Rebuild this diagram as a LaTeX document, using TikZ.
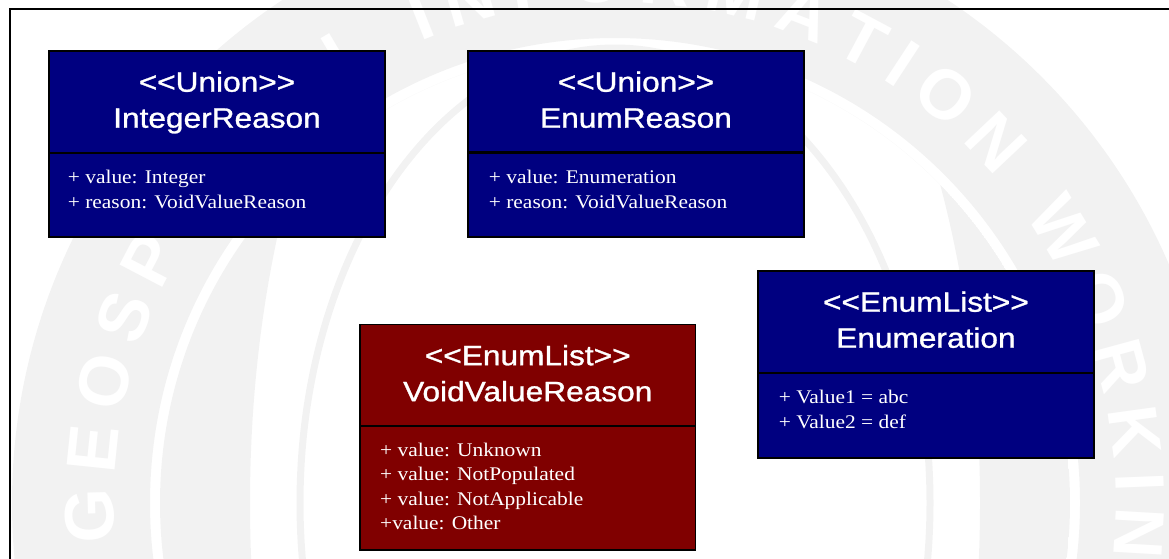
\documentclass[tikz,border=0pt]{standalone}
\usepackage{fontspec}
\setmainfont{Liberation Serif}
\setsansfont{Liberation Sans}
\newfontfamily\hdrfont{Liberation Sans}[FakeBold=1]
\usepackage{graphicx}
\definecolor{navy}{RGB}{0,0,128}
\definecolor{maroon}{RGB}{128,0,0}
\definecolor{wm}{RGB}{242,242,242}
\tikzset{
  umlbox/.style={draw=black, line width=1.8pt, inner sep=0pt, outer sep=0pt, minimum width=336pt, anchor=north west},
  hdr/.style={text=white, font=\hdrfont\fontsize{28}{34}\selectfont, anchor=base, inner sep=0pt},
  attr/.style={text=white, font=\rmfamily\fontsize{19.3}{24}\selectfont, anchor=base west, inner sep=0pt},
  divider/.style={draw=black, line width=2.2pt},
  frameline/.style={draw=black, line width=2.2pt},
  wmletter/.style={text=white, font=\sffamily\bfseries\fontsize{70}{70}\selectfont, inner sep=0pt, anchor=center},
}
\newcommand{\hs}[1]{\scalebox{1.13}[1]{#1}}
\newcommand{\as}[1]{\scalebox{1.11}[1]{#1}}
\begin{document}
\begin{tikzpicture}[x=1pt,y=-1pt]
\useasboundingbox (0,0) rectangle (1169,558);
\clip (0,0) rectangle (1169,558);
% watermark
\fill[wm, even odd rule] (615,503) circle[radius=603pt] (615,503) circle[radius=465pt];
\begin{scope}
  \clip (615,503) circle[radius=455pt];
  \fill[wm, even odd rule] (615,503) circle[radius=455pt] (615,503) ellipse[x radius=365pt, y radius=700pt];
\end{scope}
\draw[wm, line width=7pt] (615,503) ellipse[x radius=315pt, y radius=455pt];
\foreach \ch/\c [count=\i] in {G/27.23, E/91.81, O/156.38, S/220.96, P/281.65, L/559.69, I/638.26, N/687.26, F/747.92, O/810.53, R/877.03, M/945.46, A/1013.88, T/1074.54, I/1119.65, O/1170.61, N/1237.11, W/1342.88, O/1417.15, R/1483.65, K/1548.19, I/1597.19, N/1646.19, G/1712.69}{
  \pgfmathsetmacro\a{181.4-(\c-27.23)*0.1141}
  \node[wmletter, rotate=\a-90] (wl\i) at ({615+525*cos(\a)},{503-525*sin(\a)}) {\ch};
}
% frame
\draw[frameline] (9.7,9.3) rectangle (1200,600);
% boxes
\node[umlbox, fill=navy, minimum height=186pt] (b1) at (49,51) {};
\node[umlbox, fill=navy, minimum height=186pt] (b2) at (468,51) {};
\node[umlbox, fill=maroon, minimum height=225.8pt, minimum width=335.5pt] (b3) at (360,324.5) {};
\node[umlbox, fill=navy, minimum height=186.7pt] (b4) at (757.7,271) {};
\draw[divider] (b1.west |- 0,153) -- (b1.east |- 0,153);
\draw[divider] (b2.west |- 0,152.5) -- (b2.east |- 0,152.5);
\draw[divider] (b3.west |- 0,426) -- (b3.east |- 0,426);
\draw[divider] (b4.west |- 0,373) -- (b4.east |- 0,373);
% headers
\node[hdr] (b1s) at (217,91.7) {\hs{<{}<Union>{}>}};
\node[hdr] (b1n) at (217,127.7) {\hs{IntegerReason}};
\node[hdr] (b2s) at (636,91.7) {\hs{<{}<Union>{}>}};
\node[hdr] (b2n) at (636,127.7) {\hs{EnumReason}};
\node[hdr] (b3s) at (527.75,365.2) {\hs{<{}<EnumList>{}>}};
\node[hdr] (b3n) at (527.75,401.2) {\hs{VoidValueReason}};
\node[hdr] (b4s) at (925.9,311.7) {\hs{<{}<EnumList>{}>}};
\node[hdr] (b4n) at (925.9,347.7) {\hs{Enumeration}};
% attributes
\node[attr] (b1a1) at (67.7,183.5) {\as{+ value: Integer}};
\node[attr] (b1a2) at (67.7,208) {\as{+ reason: VoidValueReason}};
\node[attr] (b2a1) at (488.7,183.5) {\as{+ value: Enumeration}};
\node[attr] (b2a2) at (488.7,208) {\as{+ reason: VoidValueReason}};
\node[attr] (b3a1) at (380,456) {\as{+ value: Unknown}};
\node[attr] (b3a2) at (380,480.5) {\as{+ value: NotPopulated}};
\node[attr] (b3a3) at (380,505) {\as{+ value: NotApplicable}};
\node[attr] (b3a4) at (380,529.5) {\as{+value: Other}};
\node[attr] (b4a1) at (778.7,403.5) {\as{+ Value1 = abc}};
\node[attr] (b4a2) at (778.7,428) {\as{+ Value2 = def}};
\end{tikzpicture}
\end{document}
